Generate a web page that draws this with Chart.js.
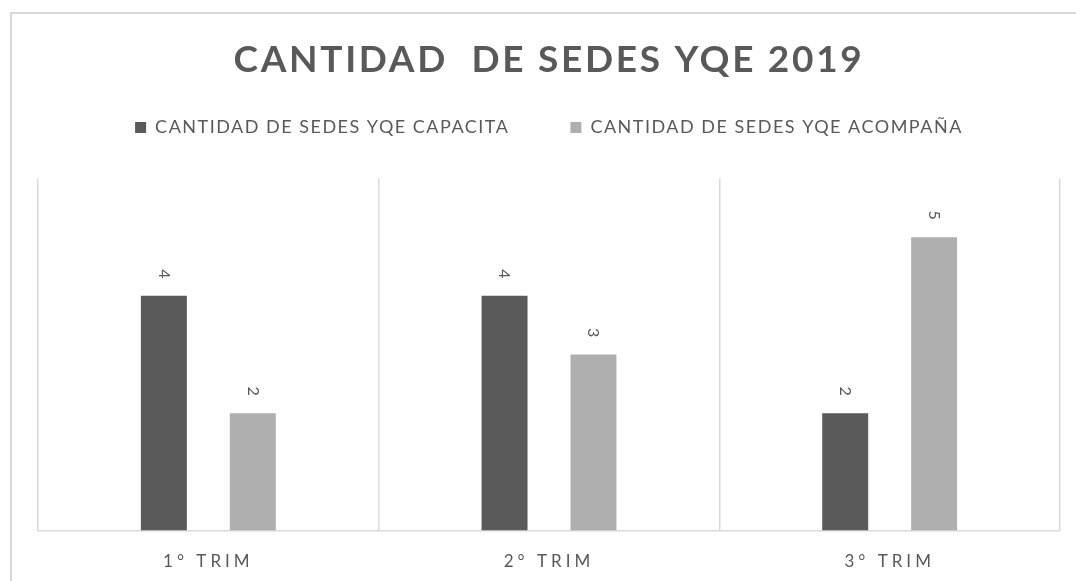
<!DOCTYPE html>
<html>
<head>
<meta charset="utf-8">
<script src="https://cdn.jsdelivr.net/npm/chart.js@4/dist/chart.umd.min.js"></script>
<style>
  html, body { margin: 0; padding: 0; background: #fff; overflow: hidden; }
  #frame { position: absolute; left: 10px; top: 12px; width: 1100px; height: 600px;
           border-left: 2px solid #d9d9d9; border-top: 2px solid #d9d9d9; }
  #wrap { position: absolute; left: 0; top: 0; width: 1076px; height: 581px; }
</style>
</head>
<body>
<div id="frame"></div>
<div id="wrap"><canvas id="sedesChart" width="1076" height="581"></canvas></div>
<script>
const categories = ['1° TRIM', '2° TRIM', '3° TRIM'];
const seriesNames = ['CANTIDAD DE SEDES YQE CAPACITA', 'CANTIDAD DE SEDES YQE ACOMPAÑA'];
const capacita = [4, 4, 2];
const acompana = [2, 3, 5];
const titleText = 'CANTIDAD  DE SEDES YQE 2019';

const textGray = '#595959';

// run one method of a box with canvas letterSpacing set
function withSpacing(box, method, gap) {
  if (!box || !box[method] || box['_sp_' + method]) return;
  box['_sp_' + method] = true;
  const orig = box[method];
  box[method] = function (...args) {
    const ctx = this.ctx;
    ctx.letterSpacing = gap;
    const r = orig.apply(this, args);
    ctx.letterSpacing = '0px';
    return r;
  };
}

const spacing = {
  id: 'spacing',
  afterInit(chart) {
    withSpacing(chart.titleBlock, 'draw', '2.7px');
    withSpacing(chart.legend, 'fit', '1.5px');
    withSpacing(chart.legend, 'draw', '1.5px');
    // keep room between legend and plot like the original
    const legend = chart.legend;
    const fit = legend.fit;
    legend.fit = function () {
      fit.call(this);
      this.height = 121;
    };
  },
  beforeDraw(chart) {
    withSpacing(chart.scales.x, 'drawLabels', '4px');
  }
};

// vertical value labels over the bars
const barLabels = {
  id: 'barLabels',
  afterDatasetsDraw(chart) {
    const ctx = chart.ctx;
    ctx.save();
    ctx.font = '16px Lato';
    ctx.fillStyle = textGray;
    ctx.textAlign = 'center';
    ctx.textBaseline = 'middle';
    chart.data.datasets.forEach((ds, i) => {
      chart.getDatasetMeta(i).data.forEach((bar, j) => {
        ctx.save();
        ctx.translate(bar.x, bar.y - 22);
        ctx.rotate(Math.PI / 2);
        ctx.fillText(String(ds.data[j]), 0, 0);
        ctx.restore();
      });
    });
    ctx.restore();
  }
};

new Chart(document.getElementById('sedesChart'), {
  type: 'bar',
  data: {
    labels: categories,
    datasets: [
      { label: seriesNames[0], data: capacita, backgroundColor: '#5a5a5a' },
      { label: seriesNames[1], data: acompana, backgroundColor: '#afafaf' }
    ]
  },
  options: {
    responsive: false,
    animation: false,
    categoryPercentage: 0.522,
    barPercentage: 0.517,
    layout: { padding: { left: 38, right: 16, top: 0, bottom: -12 } },
    plugins: {
      title: {
        display: true,
        text: titleText,
        color: textGray,
        font: { family: 'Lato', size: 37, weight: 'bold', lineHeight: 1 },
        padding: { top: 42, bottom: -21.5 }
      },
      legend: {
        display: true,
        labels: {
          color: textGray,
          font: { family: 'Lato', size: 18 },
          boxWidth: 11,
          boxHeight: 11,
          padding: 61
        }
      },
      tooltip: { enabled: false }
    },
    scales: {
      x: {
        grid: { display: true, offset: true, color: '#d9d9d9', lineWidth: 1.5, drawTicks: false },
        border: { display: true, color: '#d9d9d9', width: 1.5 },
        ticks: { color: textGray, font: { family: 'Lato', size: 17 }, padding: 21 }
      },
      y: {
        display: false,
        min: 0,
        max: 6
      }
    }
  },
  plugins: [spacing, barLabels]
});
</script>
</body>
</html>
